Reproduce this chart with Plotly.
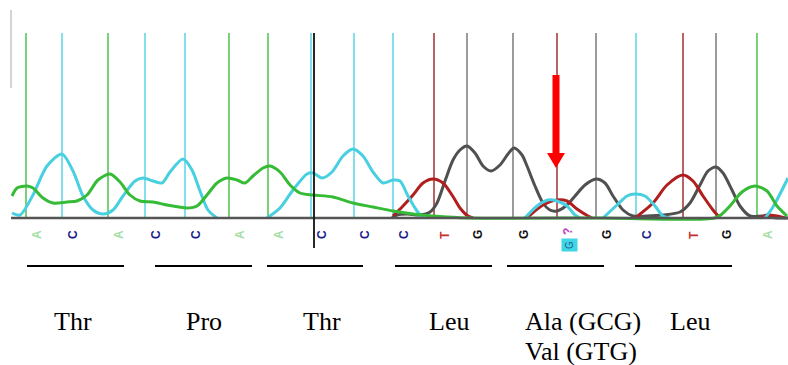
import plotly.graph_objects as go

# ---------------- data ----------------
# base-call positions (scan units) and calls
base_x = [26, 62, 108, 145, 185, 229, 268, 311, 354, 393, 434, 467, 513, 557, 596, 636, 683, 716, 757]
base_call = ["A", "C", "A", "C", "C", "A", "A", "C", "C", "C", "T", "G", "G", "?", "G", "C", "T", "G", "A"]
line_channel = ["A", "C", "A", "C", "C", "A", "A", "C", "C", "C", "T", "G", "G", "T", "G", "C", "T", "G", "A"]
mutation_index = 13
mutation_alt = "G"
cursor_x = 314

# trace signals (None separates segments)
cyan_x = [12, 20, 33, 47, 62, 73, 83, 93, 103, 113, 123, 135, 143, 153, 162, 170, 183, 192, 200, 208, 217, None,
          267, 280, 293, 307, 313, 322, 332, 343, 353, 363, 373, 383, 393, 400, 408, 417, 423, None,
          525, 537, 548, 557, 567, 575, 580, None,
          603, 617, 627, 635, 645, 655, 663, 670, None,
          765, 773, 788]
cyan_y = [5, 3, 23, 52, 64, 47, 22, 8, 4, 8, 22, 37, 40, 37, 35, 46, 59, 48, 27, 8, 0, None,
          0, 10, 28, 44, 45, 40, 46, 62, 69, 62, 46, 35, 38, 37, 22, 7, 0, None,
          0, 12, 18, 17, 12, 3, 0, None,
          0, 13, 22, 24, 22, 12, 2, 0, None,
          0, 11, 40]

green_x = [12, 17, 27, 33, 43, 53, 67, 77, 87, 98, 110, 120, 130, 140, 153, 167, 187, 197, 207, 217, 227, 237,
           245, 253, 263, 270, 280, 290, 300, 313, 333, 353, 373, 393, 413, 433, 447, 470, 600, 715, 722,
           730, 742, 755, 767, 777, 787]
green_y = [22, 30, 32, 30, 20, 15, 16, 17, 23, 38, 44, 36, 23, 17, 16, 13, 10, 12, 23, 35, 40, 38,
           35, 42, 50, 52, 46, 33, 25, 23, 21, 15, 11, 7, 4, 2, 1, 0, 0, 0, 4,
           12, 26, 32, 27, 12, 2]

red_x = [393, 403, 413, 423, 433, 443, 452, 460, 468, 473, None,
         527, 543, 557, 567, 577, 588, 592, None,
         635, 653, 667, 683, 693, 703, 713, 720, None,
         760, 767, 777, 785]
red_y = [2, 12, 23, 35, 39, 35, 23, 10, 2, 0, None,
         0, 13, 18, 17, 9, 2, 0, None,
         0, 15, 33, 43, 37, 22, 8, 0, None,
         0, 3, 2, 0]

gray_x = [392, 397, 407, 420, 430, 437, 445, 453, 460, 467, 475, 483, 491, 500, 508, 514, 522, 527, 535, 543,
          550, 557, 567, 575, 585, 596, 605, 613, 623, 633, 647, 663, 680, 690, 700, 708, 716, 723, 732, 740,
          750, 763, 777, 788]
gray_y = [0, 3, 4, 3, 6, 15, 37, 58, 68, 72, 65, 52, 47, 53, 64, 70, 63, 52, 32, 15,
          8, 7, 13, 22, 33, 39, 35, 22, 8, 2, 2, 3, 6, 15, 33, 47, 51, 45, 28, 12,
          2, 2, 0, 0]

# codons
codon_start = [27, 155, 267, 395, 507, 635]
codon_end = [124, 252, 363, 492, 604, 732]
aa_label = ["Thr", "Pro", "Thr", "Leu", "Ala (GCG)", "Leu"]
aa_x = [73, 204, 322, 449, 523, 690]
aa_alt_label = "Val (GTG)"

# ---------------- style ----------------
trace_color = {"A": "#35bb35", "C": "#48cfe0", "G": "#505050", "T": "#b01e1e"}
vline_color = {"A": "#4cc24c", "C": "#5ad4e4", "G": "#7a7a7a", "T": "#a03030"}
letter_color = {"A": "#a6dfa6", "C": "#1c1c8a", "G": "#111111", "T": "#c83030", "?": "#c040c0"}
BASE_TOP = 185
LETTER_Y = -17
BAR_Y = -48
AA_Y1 = -103
AA_Y2 = -133
LETTER_DX = 11

fig = go.Figure()

# vertical peak lines
for ch in ["A", "C", "G", "T"]:
    xs, ys = [], []
    for x, c in zip(base_x, line_channel):
        if c == ch:
            xs += [x, x, None]
            ys += [0, BASE_TOP, None]
    fig.add_trace(go.Scatter(x=xs, y=ys, mode="lines", hoverinfo="skip",
                             line=dict(color=vline_color[ch], width=1.5), showlegend=False))

# baseline
fig.add_shape(type="line", x0=11, x1=788, y0=0, y1=0, line=dict(color="#555555", width=2.5), layer="above")
# left faint line
fig.add_shape(type="line", x0=11, x1=11, y0=130, y1=208, line=dict(color="#aaaaaa", width=1))
# cursor
fig.add_shape(type="line", x0=cursor_x, x1=cursor_x, y0=BASE_TOP, y1=-30, line=dict(color="#111111", width=1.8), layer="above")

for xs, ys, ch in [(gray_x, gray_y, "G"), (red_x, red_y, "T"), (cyan_x, cyan_y, "C"), (green_x, green_y, "A")]:
    fig.add_trace(go.Scatter(x=xs, y=ys, mode="lines", hoverinfo="skip", connectgaps=False,
                             line=dict(color=trace_color[ch], width=3, shape="spline", smoothing=0.8),
                             showlegend=False))

# base letters
for x, c in zip(base_x, base_call):
    y = LETTER_Y + (3 if c == "?" else 0)
    fig.add_annotation(x=x + LETTER_DX, y=y, text="<b>%s</b>" % c, showarrow=False, textangle=-90,
                       font=dict(family="Liberation Sans", size=12, color=letter_color[c]))
fig.add_annotation(x=base_x[mutation_index] + LETTER_DX + 1, y=LETTER_Y - 10, text=mutation_alt, showarrow=False,
                   textangle=-90, bgcolor="#3fd6e6", borderpad=2,
                   font=dict(family="Liberation Sans", size=10, color="#2a5a8a"))

# red arrow at the mutation
mx = base_x[mutation_index] - 1
fig.add_shape(type="rect", x0=mx - 3.5, x1=mx + 3.5, y0=65, y1=143, fillcolor="#ff0000", line=dict(width=0))
fig.add_shape(type="path", path="M %f,65 L %f,65 L %f,50 Z" % (mx - 9, mx + 9, mx),
              fillcolor="#ff0000", line=dict(width=0))

# codon bars
for s, e in zip(codon_start, codon_end):
    fig.add_shape(type="line", x0=s, x1=e, y0=BAR_Y, y1=BAR_Y, line=dict(color="#000000", width=2))

# amino-acid labels
serif = dict(family="Liberation Serif, Times New Roman, serif", size=26, color="#000000")
for x, lab in zip(aa_x, aa_label):
    anchor = "left" if "(" in lab else "center"
    fig.add_annotation(x=x, y=AA_Y1, text=lab, showarrow=False, xanchor=anchor, yanchor="middle", font=serif)
fig.add_annotation(x=aa_x[aa_label.index("Ala (GCG)")], y=AA_Y2, text=aa_alt_label, showarrow=False,
                   xanchor="left", yanchor="middle", font=serif)

fig.update_layout(width=788, height=365, margin=dict(l=0, r=0, t=0, b=0),
                  paper_bgcolor="white", plot_bgcolor="white",
                  xaxis=dict(range=[0, 788], visible=False, fixedrange=True),
                  yaxis=dict(range=[-147, 218], visible=False, fixedrange=True))

fig.write_html("out.html", config={"displayModeBar": False},
               post_script="document.body.style.margin='0';document.body.style.overflow='hidden';")
